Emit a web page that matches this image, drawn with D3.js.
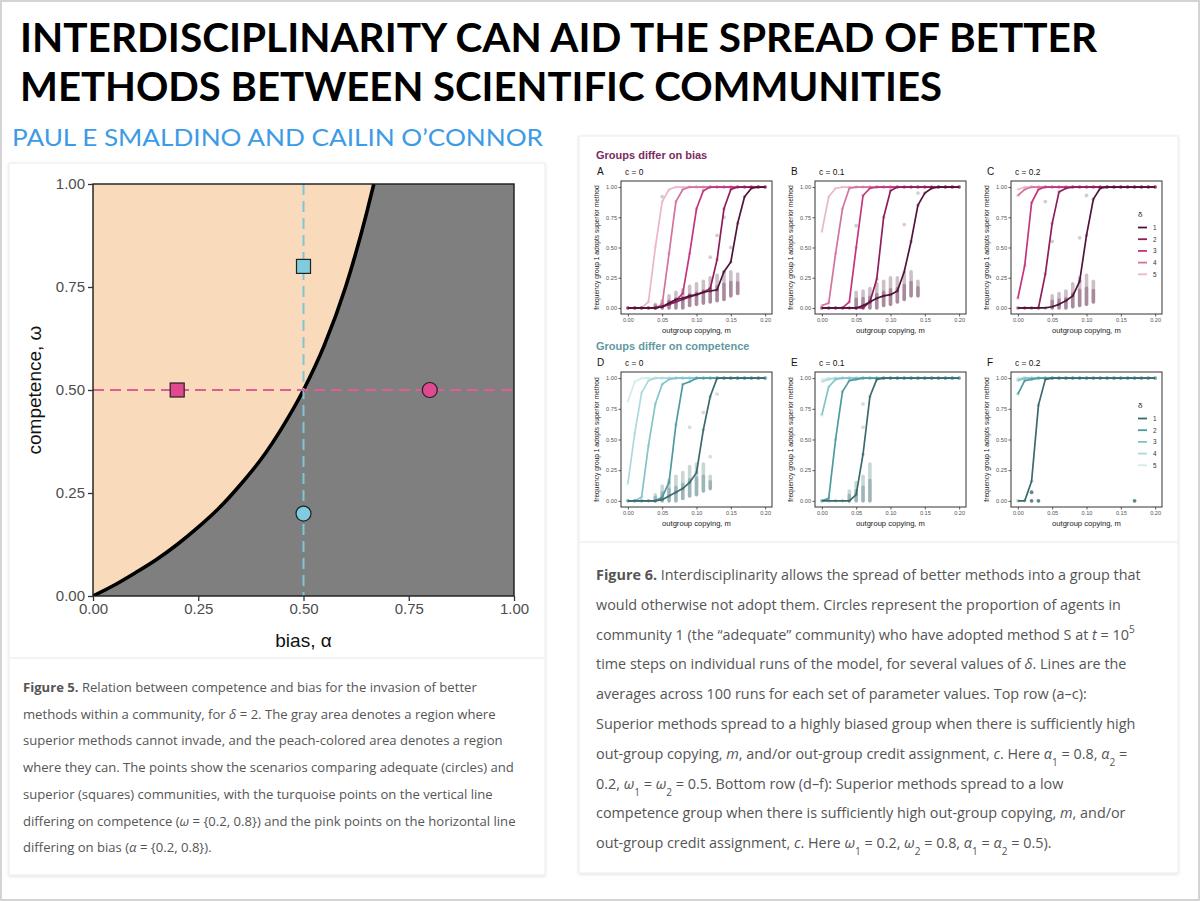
<!DOCTYPE html>
<html>
<head>
<meta charset="utf-8">
<script src="https://cdn.jsdelivr.net/npm/d3@7"></script>
<style>
  body { margin: 0; background: #fff; }
  svg { display: block; }
</style>
</head>
<body>
<svg id="slide" width="1200" height="901"></svg>
<script>
// ---- slide text ----
const titleLines = ["INTERDISCIPLINARITY CAN AID THE SPREAD OF BETTER", "METHODS BETWEEN SCIENTIFIC COMMUNITIES"];
const authorLine = "PAUL E SMALDINO AND CAILIN O\u2019CONNOR";

// ---- Figure 5: competence vs bias ----
const fig5Ticks = [0, 0.25, 0.5, 0.75, 1];
// invasion boundary [bias, competence]
const boundary = [[0, 0], [0.05, 0.026], [0.1, 0.056], [0.15, 0.088], [0.2, 0.125], [0.25, 0.167],
  [0.3, 0.214], [0.35, 0.27], [0.4, 0.333], [0.45, 0.41], [0.5, 0.5], [0.55, 0.61],
  [0.6, 0.75], [0.65, 0.93], [0.667, 1]];
const scenarioBias = [0.5, 0.5, 0.2, 0.8];
const scenarioComp = [0.8, 0.2, 0.5, 0.5];
const scenarioShape = ["square", "circle", "square", "circle"];
const scenarioGroup = ["competence", "competence", "bias", "bias"];

// ---- Figure 6: outgroup copying ----
const mSteps = [0, 0.01, 0.02, 0.03, 0.04, 0.05, 0.06, 0.07, 0.08, 0.09, 0.10,
  0.11, 0.12, 0.13, 0.14, 0.15, 0.16, 0.17, 0.18, 0.19, 0.20];
const deltas = [1, 2, 3, 4, 5];
const mTicks = [0, 0.05, 0.1, 0.15, 0.2];
const freqTicks = [0, 0.25, 0.5, 0.75, 1];
const panelLetters = ["A", "B", "C", "D", "E", "F"];
const panelC = ["c = 0", "c = 0.1", "c = 0.2", "c = 0", "c = 0.1", "c = 0.2"];

// mean lines, one row per delta (1..5), one value per m step
const biasC0 = [
  [0, 0, 0, 0, 0, 0.01, 0.04, 0.07, 0.08, 0.10, 0.11, 0.13, 0.14, 0.15, 0.30, 0.38, 0.70, 0.92, 0.99, 1, 1],
  [0, 0, 0, 0, 0, 0.01, 0.03, 0.05, 0.07, 0.09, 0.11, 0.13, 0.16, 0.40, 0.82, 0.98, 1, 1, 1, 1, 1],
  [0, 0, 0, 0, 0, 0.01, 0.03, 0.06, 0.12, 0.45, 0.82, 0.97, 1, 1, 1, 1, 1, 1, 1, 1, 1],
  [0, 0, 0, 0, 0, 0.03, 0.45, 0.88, 0.98, 1, 1, 1, 1, 1, 1, 1, 1, 1, 1, 1, 1],
  [0, 0, 0, 0.05, 0.50, 0.88, 0.98, 1, 1, 1, 1, 1, 1, 1, 1, 1, 1, 1, 1, 1, 1]
];
const biasC1 = [
  [0, 0, 0, 0, 0, 0, 0.02, 0.05, 0.08, 0.10, 0.11, 0.14, 0.30, 0.55, 0.85, 0.95, 0.99, 1, 1, 1, 1],
  [0, 0, 0, 0, 0, 0, 0, 0.05, 0.24, 0.75, 0.97, 1, 1, 1, 1, 1, 1, 1, 1, 1, 1],
  [0, 0, 0, 0, 0.05, 0.50, 0.93, 0.99, 1, 1, 1, 1, 1, 1, 1, 1, 1, 1, 1, 1, 1],
  [0.02, 0.04, 0.45, 0.82, 0.99, 1, 1, 1, 1, 1, 1, 1, 1, 1, 1, 1, 1, 1, 1, 1, 1],
  [0.63, 0.92, 0.99, 1, 1, 1, 1, 1, 1, 1, 1, 1, 1, 1, 1, 1, 1, 1, 1, 1, 1]
];
const biasC2 = [
  [0, 0, 0, 0, 0, 0.01, 0.03, 0.06, 0.10, 0.22, 0.60, 0.90, 0.99, 1, 1, 1, 1, 1, 1, 1, 1],
  [0, 0, 0, 0, 0.28, 0.70, 0.96, 0.99, 1, 1, 1, 1, 1, 1, 1, 1, 1, 1, 1, 1, 1],
  [0.08, 0.35, 0.87, 0.98, 1, 1, 1, 1, 1, 1, 1, 1, 1, 1, 1, 1, 1, 1, 1, 1, 1],
  [0.93, 0.98, 1, 1, 1, 1, 1, 1, 1, 1, 1, 1, 1, 1, 1, 1, 1, 1, 1, 1, 1],
  [0.98, 1, 1, 1, 1, 1, 1, 1, 1, 1, 1, 1, 1, 1, 1, 1, 1, 1, 1, 1, 1]
];
const compC0 = [
  [0, 0, 0, 0, 0, 0.01, 0.04, 0.07, 0.10, 0.15, 0.23, 0.58, 0.85, 1, 1, 1, 1, 1, 1, 1, 1],
  [0, 0, 0, 0, 0, 0.03, 0.15, 0.62, 0.95, 0.97, 1, 1, 1, 1, 1, 1, 1, 1, 1, 1, 1],
  [0, 0, 0.03, 0.45, 0.79, 0.95, 0.99, 1, 1, 1, 1, 1, 1, 1, 1, 1, 1, 1, 1, 1, 1],
  [0.14, 0.55, 0.88, 0.98, 1, 1, 1, 1, 1, 1, 1, 1, 1, 1, 1, 1, 1, 1, 1, 1, 1],
  [0.81, 0.97, 1, 1, 1, 1, 1, 1, 1, 1, 1, 1, 1, 1, 1, 1, 1, 1, 1, 1, 1]
];
const compC1 = [
  [0, 0, 0, 0, 0, 0.05, 0.38, 0.85, 0.99, 1, 1, 1, 1, 1, 1, 1, 1, 1, 1, 1, 1],
  [0, 0.02, 0.50, 0.89, 0.98, 0.99, 1, 1, 1, 1, 1, 1, 1, 1, 1, 1, 1, 1, 1, 1, 1],
  [0.70, 0.93, 0.99, 1, 1, 1, 1, 1, 1, 1, 1, 1, 1, 1, 1, 1, 1, 1, 1, 1, 1],
  [0.97, 0.99, 1, 1, 1, 1, 1, 1, 1, 1, 1, 1, 1, 1, 1, 1, 1, 1, 1, 1, 1],
  [0.99, 1, 1, 1, 1, 1, 1, 1, 1, 1, 1, 1, 1, 1, 1, 1, 1, 1, 1, 1, 1]
];
const compC2 = [
  [0, 0, 0.16, 0.78, 0.99, 1, 1, 1, 1, 1, 1, 1, 1, 1, 1, 1, 1, 1, 1, 1, 1],
  [0.87, 0.98, 0.99, 1, 1, 1, 1, 1, 1, 1, 1, 1, 1, 1, 1, 1, 1, 1, 1, 1, 1],
  [0.98, 1, 1, 1, 1, 1, 1, 1, 1, 1, 1, 1, 1, 1, 1, 1, 1, 1, 1, 1, 1],
  [0.99, 1, 1, 1, 1, 1, 1, 1, 1, 1, 1, 1, 1, 1, 1, 1, 1, 1, 1, 1, 1],
  [1, 1, 1, 1, 1, 1, 1, 1, 1, 1, 1, 1, 1, 1, 1, 1, 1, 1, 1, 1, 1]
];

// spread of individual runs that stayed low: [m, lowest, highest]
const cloudA = [[0.04, 0, 0.03], [0.05, 0, 0.06], [0.06, 0, 0.10], [0.07, 0, 0.13], [0.08, 0, 0.15], [0.09, 0.02, 0.18],
  [0.10, 0.03, 0.20], [0.11, 0.04, 0.22], [0.12, 0.05, 0.25], [0.13, 0.06, 0.27], [0.14, 0.07, 0.30], [0.15, 0.10, 0.30], [0.16, 0.12, 0.28]];
const cloudB = [[0.05, 0, 0.13], [0.06, 0, 0.14], [0.07, 0, 0.16], [0.08, 0, 0.20], [0.09, 0.02, 0.22], [0.10, 0.03, 0.25],
  [0.11, 0.05, 0.25], [0.12, 0.07, 0.28], [0.13, 0.10, 0.30], [0.14, 0.10, 0.22]];
const cloudC = [[0.05, 0, 0.10], [0.06, 0, 0.12], [0.07, 0, 0.14], [0.08, 0.01, 0.20], [0.09, 0.02, 0.25], [0.10, 0.03, 0.27], [0.11, 0.05, 0.22]];
const cloudD = [[0.04, 0, 0.05], [0.05, 0, 0.12], [0.06, 0, 0.17], [0.07, 0, 0.20], [0.08, 0.02, 0.23], [0.09, 0.04, 0.28],
  [0.10, 0.05, 0.30], [0.11, 0.08, 0.30], [0.12, 0.10, 0.20]];
const cloudE = [[0.04, 0, 0.08], [0.05, 0, 0.15], [0.06, 0, 0.20], [0.07, 0, 0.30]];
const cloudF = [];
// single stray runs [m, value]
const strayA = [[0.05, 0.92], [0.12, 0.42], [0.13, 0.60], [0.14, 0.75], [0.15, 0.50]];
const strayB = [[0.05, 0.68], [0.12, 0.69], [0.14, 0.95]];
const strayC = [[0.04, 0.88], [0.05, 0.55], [0.09, 0.58], [0.10, 0.93]];
const strayD = [[0.09, 0.60], [0.11, 0.72], [0.12, 0.36], [0.13, 0.87]];
const strayE = [[0.06, 0.60], [0.06, 0.79]];
const strayF = [[0.02, 0], [0.03, 0], [0.02, 0.07], [0.17, 0]];

const biasColors = ["#4f1439", "#8e1d5d", "#c4347e", "#d3729f", "#e9b6cc"];
const compColors = ["#3b6a6d", "#4c9a9f", "#82c4cb", "#acd9e0", "#d3eaee"];

// ---- captions (**bold**, _italic_, ^sup^, ~sub~) ----
const caption5 = [
  "**Figure 5.** Relation between competence and bias for the invasion of better",
  "methods within a community, for _\u03b4_ = 2. The gray area denotes a region where",
  "superior methods cannot invade, and the peach-colored area denotes a region",
  "where they can. The points show the scenarios comparing adequate (circles) and",
  "superior (squares) communities, with the turquoise points on the vertical line",
  "differing on competence (_\u03c9_ = {0.2, 0.8}) and the pink points on the horizontal line",
  "differing on bias (_\u03b1_ = {0.2, 0.8})."
];
const caption6 = [
  "**Figure 6.** Interdisciplinarity allows the spread of better methods into a group that",
  "would otherwise not adopt them. Circles represent the proportion of agents in",
  "community 1 (the \u201cadequate\u201d community) who have adopted method S at _t_ = 10^5^",
  "time steps on individual runs of the model, for several values of _\u03b4_. Lines are the",
  "averages across 100 runs for each set of parameter values. Top row (a\u2013c):",
  "Superior methods spread to a highly biased group when there is sufficiently high",
  "out-group copying, _m_, and/or out-group credit assignment, _c_. Here _\u03b1_~1~ = 0.8, _\u03b1_~2~ =",
  "0.2, _\u03c9_~1~ = _\u03c9_~2~ = 0.5. Bottom row (d\u2013f): Superior methods spread to a low",
  "competence group when there is sufficiently high out-group copying, _m_, and/or",
  "out-group credit assignment, _c_. Here _\u03c9_~1~ = 0.2, _\u03c9_~2~ = 0.8, _\u03b1_~1~ = _\u03b1_~2~ = 0.5)."
];

const svg = d3.select("#slide");
const W = 1200, H = 901;

const defs = svg.append("defs");
defs.append("filter").attr("id", "shadow").attr("x", "-5%").attr("y", "-5%").attr("width", "110%").attr("height", "110%")
  .append("feDropShadow").attr("dx", 0).attr("dy", 1).attr("stdDeviation", 1.6)
  .attr("flood-color", "#000").attr("flood-opacity", 0.12);

svg.append("rect").attr("x", 1).attr("y", 1).attr("width", W - 2).attr("height", H - 2)
  .attr("fill", "#fff").attr("stroke", "#d4d4d4").attr("stroke-width", 2);

// title + authors
svg.selectAll("text.title").data(titleLines).enter().append("text")
  .attr("class", "title")
  .attr("x", 20).attr("y", (d, i) => 52 + i * 49)
  .attr("textLength", (d, i) => i === 0 ? 1077 : 922)
  .attr("lengthAdjust", "spacingAndGlyphs")
  .style("font-family", "Lato, 'Open Sans', sans-serif").style("font-weight", 700)
  .style("font-size", "41px").attr("fill", "#000")
  .text(d => d);

svg.append("text").attr("x", 12).attr("y", 146)
  .attr("textLength", 531).attr("lengthAdjust", "spacingAndGlyphs")
  .style("font-family", "Lato, sans-serif").style("font-weight", 400)
  .style("font-size", "24px").attr("fill", "#3d9be6")
  .text(authorLine);

// cards
function card(x, y, w, h, split) {
  svg.append("rect").attr("x", x).attr("y", y).attr("width", w).attr("height", h)
    .attr("fill", "#fff").attr("stroke", "#ececec").attr("filter", "url(#shadow)");
  svg.append("line").attr("x1", x).attr("x2", x + w).attr("y1", split).attr("y2", split)
    .attr("stroke", "#f0f0f0").attr("stroke-width", 1.5);
}
card(9, 163, 536, 712, 658);
card(579, 136, 599, 737, 542);

// rich caption text
function richLine(sel, str, fontSize) {
  const parts = str.split(/(\*\*[^*]+\*\*|_[^_]+_|\^[^^]+\^|~[^~]+~)/).filter(s => s.length);
  parts.forEach(p => {
    const t = sel.append("tspan");
    if (p.startsWith("**")) t.style("font-weight", 700).text(p.slice(2, -2));
    else if (p.startsWith("_")) t.style("font-style", "italic").text(p.slice(1, -1));
    else if (p.startsWith("^")) t.attr("baseline-shift", "super").style("font-size", (fontSize * 0.7) + "px").text(p.slice(1, -1));
    else if (p.startsWith("~")) t.attr("baseline-shift", "sub").style("font-size", (fontSize * 0.7) + "px").text(p.slice(1, -1));
    else t.text(p);
  });
}
function caption(lines, x, y0, step, fontSize) {
  const g = svg.append("g").style("font-family", "'Open Sans', sans-serif")
    .style("font-size", fontSize + "px").attr("fill", "#555");
  lines.forEach((ln, i) => {
    const t = g.append("text").attr("x", x).attr("y", y0 + i * step);
    richLine(t, ln, fontSize);
  });
}
caption(caption5, 23, 692, 26.7, 13.1);
caption(caption6, 596, 580, 29.8, 14.4);

// ---------- Figure 5 ----------
const f5 = svg.append("g");
const bx = d3.scaleLinear().domain([0, 1]).range([93, 514]);
const cy = d3.scaleLinear().domain([0, 1]).range([596, 184]);

defs.append("clipPath").attr("id", "f5clip").append("rect")
  .attr("x", bx(0)).attr("y", cy(1)).attr("width", bx(1) - bx(0)).attr("height", cy(0) - cy(1));

f5.append("rect").attr("x", bx(0)).attr("y", cy(1)).attr("width", bx(1) - bx(0)).attr("height", cy(0) - cy(1))
  .attr("fill", "#7f7f7f");

const inside = f5.append("g").attr("clip-path", "url(#f5clip)");
inside.append("path").datum(boundary)
  .attr("d", d3.area().x(d => bx(d[0])).y0(cy(1)).y1(d => cy(d[1])).curve(d3.curveMonotoneX))
  .attr("fill", "#f9dbbb");
inside.append("path").datum(boundary)
  .attr("d", d3.line().x(d => bx(d[0])).y(d => cy(d[1])).curve(d3.curveMonotoneX))
  .attr("fill", "none").attr("stroke", "#000").attr("stroke-width", 3.6);

// reference dashed lines
inside.append("line").attr("x1", bx(0.5)).attr("x2", bx(0.5)).attr("y1", cy(1)).attr("y2", cy(0))
  .attr("stroke", "#7fc5d8").attr("stroke-width", 2).attr("stroke-dasharray", "11,6");
inside.append("line").attr("x1", bx(0)).attr("x2", bx(1)).attr("y1", cy(0.5)).attr("y2", cy(0.5))
  .attr("stroke", "#dd5e97").attr("stroke-width", 2).attr("stroke-dasharray", "11,6");

const scen = scenarioBias.map((b, i) => ({ b, w: scenarioComp[i], shape: scenarioShape[i], group: scenarioGroup[i] }));
const scenFill = g => g === "competence" ? "#7fcbe0" : "#e0498f";
f5.selectAll("rect.sq").data(scen.filter(d => d.shape === "square")).enter().append("rect")
  .attr("x", d => bx(d.b) - 7).attr("y", d => cy(d.w) - 7).attr("width", 14).attr("height", 14)
  .attr("fill", d => scenFill(d.group)).attr("stroke", "#222").attr("stroke-width", 1.2);
f5.selectAll("circle.ci").data(scen.filter(d => d.shape === "circle")).enter().append("circle")
  .attr("cx", d => bx(d.b)).attr("cy", d => cy(d.w)).attr("r", 7.5)
  .attr("fill", d => scenFill(d.group)).attr("stroke", "#222").attr("stroke-width", 1.2);

f5.append("rect").attr("x", bx(0)).attr("y", cy(1)).attr("width", bx(1) - bx(0)).attr("height", cy(0) - cy(1))
  .attr("fill", "none").attr("stroke", "#1a1a1a").attr("stroke-width", 1.4);

const fmt2 = d3.format(".2f");
const ax5y = f5.append("g").attr("transform", `translate(${bx(0)},0)`)
  .call(d3.axisLeft(cy).tickValues(fig5Ticks).tickFormat(fmt2).tickSize(5).tickPadding(3));
const ax5x = f5.append("g").attr("transform", `translate(0,${cy(0)})`)
  .call(d3.axisBottom(bx).tickValues(fig5Ticks).tickFormat(fmt2).tickSize(5).tickPadding(2));
[ax5y, ax5x].forEach(a => {
  a.select(".domain").remove();
  a.selectAll(".tick line").attr("stroke", "#333").attr("stroke-width", 1.3);
  a.selectAll("text").style("font-family", "'Liberation Sans', Arial, sans-serif")
    .style("font-size", "15px").attr("fill", "#4d4d4d");
});
f5.append("text").attr("x", bx(0.5)).attr("y", 647).attr("text-anchor", "middle")
  .style("font-family", "'Liberation Sans', Arial, sans-serif").style("font-size", "19px").attr("fill", "#111")
  .text("bias, \u03b1");
f5.append("text").attr("transform", `translate(41,${cy(0.5)}) rotate(-90)`).attr("text-anchor", "middle")
  .style("font-family", "'Liberation Sans', Arial, sans-serif").style("font-size", "19px").attr("fill", "#111")
  .text("competence, \u03c9");

// ---------- Figure 6 ----------
const f6 = svg.append("g").style("font-family", "'Liberation Sans', Arial, sans-serif");
const groupTitles = ["Groups differ on bias", "Groups differ on competence"];
const groupColors = ["#7b2b62", "#5f9aa0"];
const rowTop = [181, 372];
const rowH = [133, 135];
const colLeft = [621, 815, 1011];
const panelW = 151;

groupTitles.forEach((t, r) => {
  f6.append("text").attr("x", 596).attr("y", rowTop[r] - 22)
    .style("font-size", "11px").style("font-weight", 700).attr("fill", groupColors[r]).text(t);
});

const seriesList = [biasC0, biasC1, biasC2, compC0, compC1, compC2];
const cloudList = [cloudA, cloudB, cloudC, cloudD, cloudE, cloudF];
const strayList = [strayA, strayB, strayC, strayD, strayE, strayF];

seriesList.forEach((series, i) => {
  const r = Math.floor(i / 3), c = i % 3;
  const left = colLeft[c], top = rowTop[r], h = rowH[r];
  const colors = r === 0 ? biasColors : compColors;
  const x = d3.scaleLinear().domain([-0.01, 0.21]).range([left, left + panelW]);
  const y = d3.scaleLinear().domain([-0.05, 1.05]).range([top + h, top]);
  const g = f6.append("g");

  // runs that stayed low
  g.selectAll("line.cloud").data(cloudList[i]).enter().append("line")
    .attr("x1", d => x(d[0])).attr("x2", d => x(d[0]))
    .attr("y1", d => y(d[1])).attr("y2", d => y(d[2]))
    .attr("stroke", colors[0]).attr("stroke-opacity", 0.28)
    .attr("stroke-width", 3.6).attr("stroke-linecap", "round");
  g.selectAll("line.core").data(cloudList[i]).enter().append("line")
    .attr("x1", d => x(d[0])).attr("x2", d => x(d[0]))
    .attr("y1", d => y(d[1])).attr("y2", d => y(d[1] + (d[2] - d[1]) * 0.55))
    .attr("stroke", colors[0]).attr("stroke-opacity", 0.3)
    .attr("stroke-width", 3.6).attr("stroke-linecap", "round");
  g.selectAll("circle.stray").data(strayList[i]).enter().append("circle")
    .attr("cx", d => x(d[0])).attr("cy", d => y(d[1])).attr("r", 1.9)
    .attr("fill", colors[0]).attr("fill-opacity", r === 1 && c === 2 ? 0.8 : 0.22);

  // per-run dots on the mean positions and mean lines
  const order = deltas.slice().reverse();
  order.forEach(dl => {
    const vals = series[dl - 1];
    const pts = mSteps.map((m, k) => [m, vals[k]]);
    g.selectAll(null).data(pts).enter().append("circle")
      .attr("cx", d => x(d[0])).attr("cy", d => y(d[1])).attr("r", 1.8)
      .attr("fill", colors[dl - 1]).attr("fill-opacity", 0.3);
    g.append("path").datum(pts)
      .attr("d", d3.line().x(d => x(d[0])).y(d => y(d[1])))
      .attr("fill", "none").attr("stroke", colors[dl - 1]).attr("stroke-width", 1.7)
      .attr("stroke-linejoin", "round");
  });

  g.append("rect").attr("x", left).attr("y", top).attr("width", panelW).attr("height", h)
    .attr("fill", "none").attr("stroke", "#333").attr("stroke-width", 1);

  const ay = g.append("g").attr("transform", `translate(${left},0)`)
    .call(d3.axisLeft(y).tickValues(freqTicks).tickFormat(fmt2).tickSize(2.5).tickPadding(1.5));
  const axx = g.append("g").attr("transform", `translate(0,${top + h})`)
    .call(d3.axisBottom(x).tickValues(mTicks).tickFormat(fmt2).tickSize(2.5).tickPadding(1.5));
  [ay, axx].forEach(a => {
    a.select(".domain").remove();
    a.selectAll(".tick line").attr("stroke", "#333").attr("stroke-width", 0.8);
    a.selectAll("text").style("font-size", "5.6px").attr("fill", "#555");
  });

  g.append("text").attr("transform", `translate(${left - 22},${top + h / 2}) rotate(-90)`)
    .attr("text-anchor", "middle").style("font-size", "6.6px").attr("fill", "#222")
    .text("frequency group 1 adopts superior method");
  g.append("text").attr("x", left + panelW / 2).attr("y", top + h + 19).attr("text-anchor", "middle")
    .style("font-size", "7.6px").attr("fill", "#222").text("outgroup copying, m");
  g.append("text").attr("x", left - 24).attr("y", top - 6)
    .style("font-size", "10px").attr("fill", "#111").text(panelLetters[i]);
  g.append("text").attr("x", left + 4).attr("y", top - 6)
    .style("font-size", "8.4px").attr("fill", "#111").text(panelC[i]);

  // legend in the right column
  if (c === 2) {
    const lx = left + 127, ly = top + 36;
    g.append("text").attr("x", lx).attr("y", ly).style("font-size", "8px").attr("fill", "#222").text("\u03b4");
    deltas.forEach((dl, k) => {
      const yy = ly + 13 + k * 11.7;
      g.append("line").attr("x1", lx).attr("x2", lx + 9).attr("y1", yy - 2.5).attr("y2", yy - 2.5)
        .attr("stroke", colors[dl - 1]).attr("stroke-width", 1.8);
      g.append("text").attr("x", lx + 15).attr("y", yy).style("font-size", "6.4px").attr("fill", "#333").text(dl);
    });
  }
});
</script>
</body>
</html>
